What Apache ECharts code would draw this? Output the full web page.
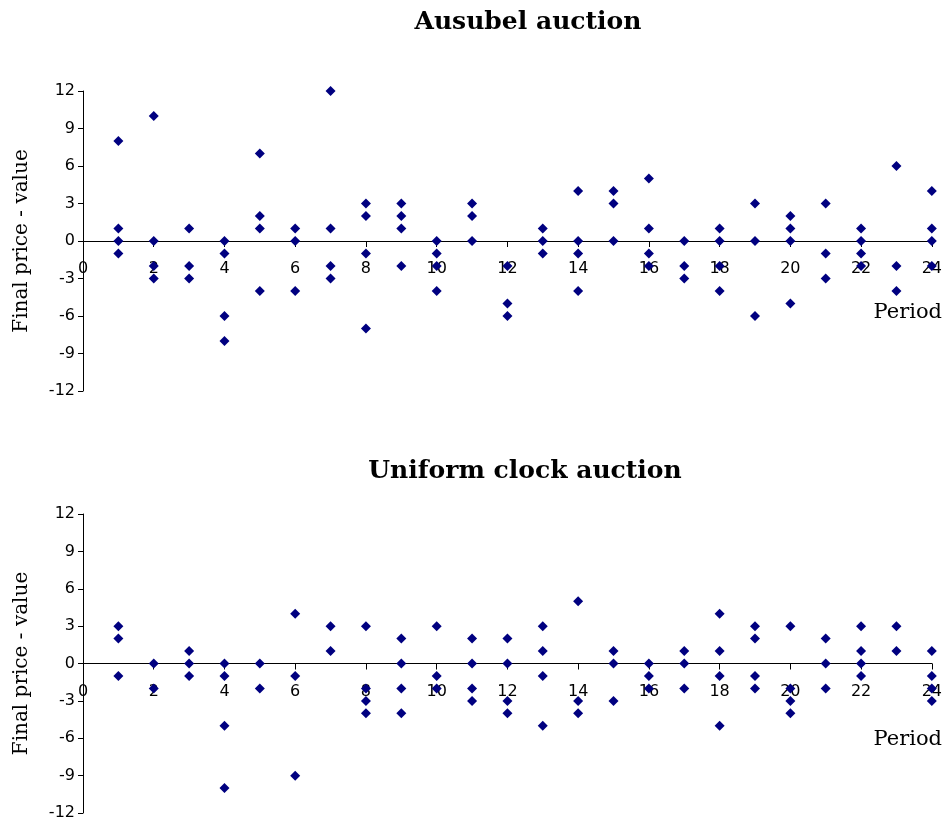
<!DOCTYPE html>
<html>
<head>
<meta charset="utf-8">
<title>Final price minus value by period</title>
<script src="https://cdn.jsdelivr.net/npm/echarts@6/dist/echarts.min.js"></script>
<style>
  html, body { margin: 0; padding: 0; background: #ffffff; }
  #chart { width: 945px; height: 823px; }
</style>
</head>
<body>
<div id="chart"></div>
<script>
// Periods on the horizontal axis
const periods = [1, 2, 3, 4, 5, 6, 7, 8, 9, 10, 11, 12, 13, 14, 15, 16, 17, 18, 19, 20, 21, 22, 23, 24];

// Final price minus value, one list per period
const ausubelValues = [
  [8, 1, 0, -1], [10, 0, -2, -3], [1, -2, -3], [0, -1, -6, -8],
  [7, 2, 1, -4], [1, 0, -4], [12, 1, -2, -3], [3, 2, -1, -7],
  [3, 2, 1, -2], [0, -1, -2, -4], [3, 2, 0], [-2, -5, -6],
  [1, 0, -1], [4, 0, -1, -4], [4, 3, 0], [5, 1, -1, -2],
  [0, -2, -3], [1, 0, -2, -4], [3, 0, -6], [2, 1, 0, -5],
  [3, -1, -3], [1, 0, -1, -2], [6, -2, -4], [4, 1, 0, -2]
];
const uniformValues = [
  [3, 2, -1], [0, -2], [1, 0, -1], [0, -1, -5, -10],
  [0, -2], [4, -1, -9], [3, 1], [3, -2, -3, -4],
  [2, 0, -2, -4], [3, -1, -2], [2, 0, -2, -3], [2, 0, -3, -4],
  [3, 1, -1, -5], [5, -3, -4], [1, 0, -3], [0, -1, -2],
  [1, 0, -2], [4, 1, -1, -5], [3, 2, -1, -2], [3, -2, -3, -4],
  [2, 0, -2], [3, 1, 0, -1], [3, 1], [1, -1, -2, -3]
];

// Axis ticks
const xTicks = { min: 0, max: 24, interval: 2 };
const yTicks = { min: -12, max: 12, interval: 3 };

const titles = ['Ausubel auction', 'Uniform clock auction'];
const yName = 'Final price - value';
const xName = 'Period';

function toPoints(values) {
  const pts = [];
  periods.forEach((p, i) => values[i].forEach(v => pts.push([p, v])));
  return pts;
}

const serif = '"DejaVu Serif", "Liberation Serif", serif';
const sans = '"DejaVu Sans", "Liberation Sans", Arial, sans-serif';

// Two stacked plot areas
const grids = [
  { left: 83, top: 91, width: 853, height: 300 },
  { left: 83, top: 514, width: 852, height: 299 }
];

// The period axis runs through value 0, i.e. half way up each plot
function xAxisFor(gridIndex) {
  return {
    type: 'value', gridIndex,
    position: 'bottom',
    offset: -grids[gridIndex].height / 2,
    min: xTicks.min, max: xTicks.max, interval: xTicks.interval,
    axisLine: { onZero: false, lineStyle: { color: '#000', width: 1 } },
    axisTick: { show: true, inside: false, length: 6, lineStyle: { color: '#000' } },
    axisLabel: { color: '#000', fontFamily: sans, fontSize: 16, margin: 20 },
    splitLine: { show: false }
  };
}
function yAxisFor(gridIndex) {
  return {
    type: 'value', gridIndex,
    min: yTicks.min, max: yTicks.max, interval: yTicks.interval,
    name: yName, nameLocation: 'middle', nameGap: 51,
    nameTextStyle: { color: '#000', fontFamily: serif, fontSize: 20 },
    axisLine: { show: true, onZero: false, lineStyle: { color: '#000', width: 1 } },
    axisTick: { show: true, inside: false, length: 5, lineStyle: { color: '#000' } },
    axisLabel: { color: '#000', fontFamily: sans, fontSize: 16, margin: 8 },
    splitLine: { show: false }
  };
}

const markerStyle = { color: '#000080', opacity: 1 };

const chart = echarts.init(document.getElementById('chart'), null, { renderer: 'canvas' });
chart.setOption({
  animation: false,
  backgroundColor: '#ffffff',
  grid: grids,
  xAxis: [xAxisFor(0), xAxisFor(1)],
  yAxis: [yAxisFor(0), yAxisFor(1)],
  graphic: [
    { type: 'text', x: 528, y: 22, style: { text: titles[0], font: 'bold 25px ' + serif, fill: '#000', align: 'center', verticalAlign: 'middle' } },
    { type: 'text', x: 525, y: 471, style: { text: titles[1], font: 'bold 25px ' + serif, fill: '#000', align: 'center', verticalAlign: 'middle' } },
    { type: 'text', x: 942, y: 313, style: { text: xName, font: '21px ' + serif, fill: '#000', align: 'right', verticalAlign: 'middle' } },
    { type: 'text', x: 942, y: 740, style: { text: xName, font: '21px ' + serif, fill: '#000', align: 'right', verticalAlign: 'middle' } }
  ],
  series: [
    { type: 'scatter', xAxisIndex: 0, yAxisIndex: 0, symbol: 'diamond', symbolSize: 10, z: 5, itemStyle: markerStyle, data: toPoints(ausubelValues) },
    { type: 'scatter', xAxisIndex: 1, yAxisIndex: 1, symbol: 'diamond', symbolSize: 10, z: 5, itemStyle: markerStyle, data: toPoints(uniformValues) }
  ]
});
</script>
</body>
</html>
